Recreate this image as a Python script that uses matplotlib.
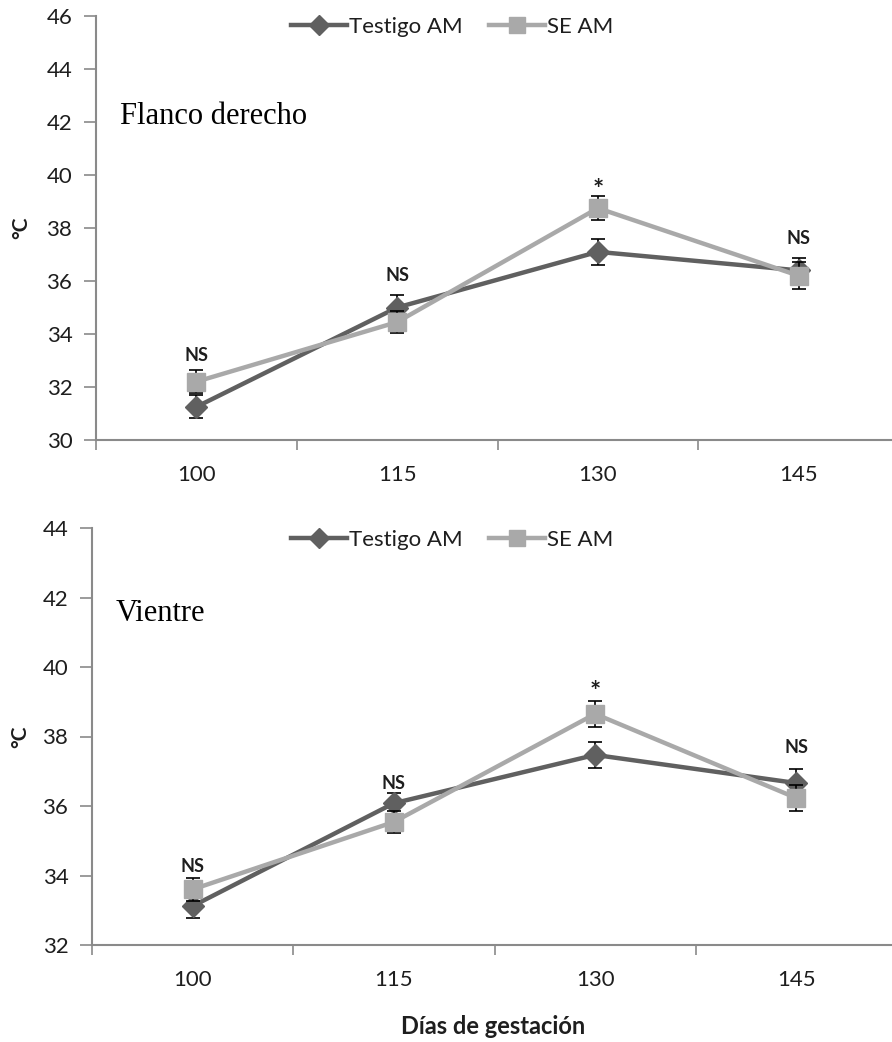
import matplotlib
matplotlib.use("Agg")
import matplotlib.pyplot as plt
from matplotlib.lines import Line2D
import numpy as np

# ---- data ----
days = ["100", "115", "130", "145"]
series_names = ["Testigo AM", "SE AM"]

flanco_testigo = [31.25, 35.0, 37.1, 36.4]
flanco_testigo_err = [0.43, 0.47, 0.48, 0.45]
flanco_se = [32.2, 34.45, 38.75, 36.2]
flanco_se_err = [0.44, 0.42, 0.46, 0.52]
flanco_sig = ["NS", "NS", "*", "NS"]
flanco_sig_y = [33.2, 36.2, 39.45, 37.6]

vientre_testigo = [33.12, 36.08, 37.47, 36.66]
vientre_testigo_err = [0.35, 0.30, 0.37, 0.40]
vientre_se = [33.6, 35.54, 38.65, 36.23]
vientre_se_err = [0.33, 0.32, 0.37, 0.37]
vientre_sig = ["NS", "NS", "*", "NS"]
vientre_sig_y = [34.25, 36.66, 39.28, 37.67]

flanco_yticks = [30, 32, 34, 36, 38, 40, 42, 44, 46]
vientre_yticks = [32, 34, 36, 38, 40, 42, 44]

panel_titles = ["Flanco derecho", "Vientre"]
ylabel = "°C"
xlabel = "Días de gestación"

# ---- style ----
SANS = ["Lato", "DejaVu Sans"]
SERIF = ["Liberation Serif", "DejaVu Serif"]
DARK = "#606060"
LIGHT = "#a9a9a9"
SPINE = "#8a8a8a"
TXT = "#1e1e1e"

plt.rcParams["font.family"] = SANS

fig = plt.figure(figsize=(8.92, 10.42), dpi=100)

W, H = 892.0, 1042.0


def make_axes(left_px, right_px, top_px, bottom_px):
    return fig.add_axes([left_px / W, (H - bottom_px) / H,
                         (right_px - left_px) / W, (bottom_px - top_px) / H])


ax1 = make_axes(96, 899, 16, 440)
ax2 = make_axes(92, 897, 528, 945)

panels = [
    (ax1, flanco_testigo, flanco_testigo_err, flanco_se, flanco_se_err,
     flanco_sig, flanco_sig_y, flanco_yticks, panel_titles[0], (0.030, 0.762), 27),
    (ax2, vientre_testigo, vientre_testigo_err, vientre_se, vientre_se_err,
     vientre_sig, vientre_sig_y, vientre_yticks, panel_titles[1], (0.029, 0.796), 540),
]

for (ax, t, te, s, se, sig, sigy, yt, title, tpos, leg_y) in panels:
    x = np.arange(len(days))
    ax.errorbar(x, t, yerr=te, color=DARK, lw=3.2, marker="D", ms=11.5,
                mfc=DARK, mec=DARK, ecolor="black", elinewidth=1.2,
                capsize=5, capthick=1.2, zorder=3)
    ax.errorbar(x, s, yerr=se, color=LIGHT, lw=3.2, marker="s", ms=13,
                mfc=LIGHT, mec=LIGHT, ecolor="black", elinewidth=1.2,
                capsize=5, capthick=1.2, zorder=4)
    for xi, lab, yy in zip(x, sig, sigy):
        ax.text(xi, yy, lab, ha="center", va="center",
                fontsize=19 if lab == "*" else 13,
                fontweight="bold", color=TXT, family=SANS, zorder=6)

    ax.set_xlim(-0.5, 3.5)
    ax.set_ylim(yt[0], yt[-1])
    ax.set_yticks(yt)
    ax.set_xticks(x)
    ax.set_xticklabels(days)
    ax.set_xticks(np.arange(-0.5, 4.0, 1.0), minor=True)
    ax.tick_params(axis="x", which="major", length=0, pad=18, labelsize=16,
                   labelcolor=TXT)
    ax.tick_params(axis="x", which="minor", length=7, width=1.2, color=SPINE,
                   direction="out")
    ax.tick_params(axis="y", length=9, width=1.2, color=SPINE, pad=8,
                   labelsize=16, labelcolor=TXT)
    for side in ["top", "right"]:
        ax.spines[side].set_visible(False)
    for side in ["left", "bottom"]:
        ax.spines[side].set_color(SPINE)
        ax.spines[side].set_linewidth(1.5)

    ax.set_ylabel(ylabel, fontsize=15, fontweight="bold", color=TXT)

    ax.text(tpos[0], tpos[1], title, transform=ax.transAxes, ha="left",
            va="center", fontsize=22, family=SERIF, color="black")

    handles = [
        Line2D([], [], color=DARK, lw=3.2, marker="D", ms=10, mfc=DARK, mec=DARK),
        Line2D([], [], color=LIGHT, lw=3.2, marker="s", ms=11, mfc=LIGHT, mec=LIGHT),
    ]
    fig.legend(handles=handles, labels=series_names, loc="center",
               bbox_to_anchor=(452 / W, (H - leg_y) / H), ncol=2,
               frameon=False, fontsize=16, handlelength=2.5,
               columnspacing=1.2, handletextpad=0.1, labelcolor=TXT)

ax1.yaxis.set_label_coords(-0.081, 0.5)
ax2.yaxis.set_label_coords(-0.077, 0.5)

fig.text(493 / W, (H - 1027) / H, xlabel, ha="center", va="center",
         fontsize=17, fontweight="bold", color=TXT)

fig.savefig("out.png", dpi=100)
